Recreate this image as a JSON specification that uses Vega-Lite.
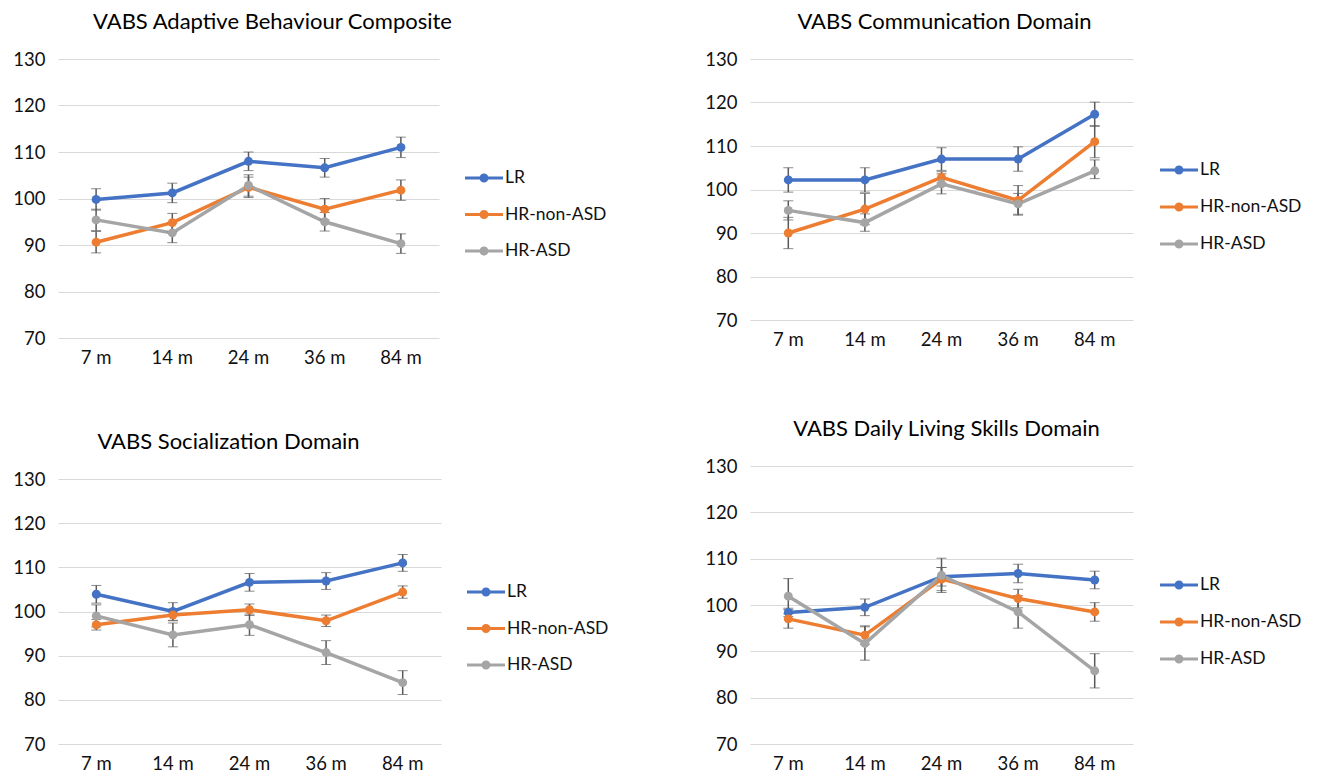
{
  "$schema": "https://vega.github.io/schema/vega-lite/v6.json",
  "background": "white",
  "padding": {"left": 12, "top": 11, "right": 0, "bottom": 0},
  "config": {
    "view": {"stroke": null},
    "font": "Lato",
    "title": {"font": "Lato", "fontSize": 22, "fontWeight": "normal", "color": "#000000", "anchor": "middle", "frame": "group", "offset": 16},
    "axis": {"labelFont": "Lato", "labelFontSize": 18.5, "labelColor": "#111111", "domain": false, "ticks": false},
    "legend": {"labelFont": "Lato", "labelFontSize": 17.5, "labelColor": "#111111", "padding": 0, "title": null, "symbolOpacity": 1, "symbolStrokeWidth": 0}
  },
  "datasets": {
    "abc": [
      {"age": "7 m", "group": "LR", "mean": 99.8, "lo": 97.5, "hi": 102.1},
      {"age": "14 m", "group": "LR", "mean": 101.2, "lo": 99.1, "hi": 103.3},
      {"age": "24 m", "group": "LR", "mean": 108.0, "lo": 106.0, "hi": 110.0},
      {"age": "36 m", "group": "LR", "mean": 106.6, "lo": 104.6, "hi": 108.6},
      {"age": "84 m", "group": "LR", "mean": 111.0, "lo": 108.8, "hi": 113.2},
      {"age": "7 m", "group": "HR-non-ASD", "mean": 90.6, "lo": 88.3, "hi": 92.9},
      {"age": "14 m", "group": "HR-non-ASD", "mean": 94.8, "lo": 92.8, "hi": 96.8},
      {"age": "24 m", "group": "HR-non-ASD", "mean": 102.4, "lo": 100.2, "hi": 104.6},
      {"age": "36 m", "group": "HR-non-ASD", "mean": 97.7, "lo": 95.4, "hi": 100.0},
      {"age": "84 m", "group": "HR-non-ASD", "mean": 101.8, "lo": 99.6, "hi": 104.0},
      {"age": "7 m", "group": "HR-ASD", "mean": 95.4, "lo": 93.1, "hi": 97.7},
      {"age": "14 m", "group": "HR-ASD", "mean": 92.6, "lo": 90.5, "hi": 94.7},
      {"age": "24 m", "group": "HR-ASD", "mean": 102.8, "lo": 100.5, "hi": 105.1},
      {"age": "36 m", "group": "HR-ASD", "mean": 95.0, "lo": 93.0, "hi": 97.0},
      {"age": "84 m", "group": "HR-ASD", "mean": 90.3, "lo": 88.2, "hi": 92.4}
    ],
    "comm": [
      {"age": "7 m", "group": "LR", "mean": 102.2, "lo": 99.4, "hi": 105.0},
      {"age": "14 m", "group": "LR", "mean": 102.2, "lo": 99.4, "hi": 105.0},
      {"age": "24 m", "group": "LR", "mean": 107.0, "lo": 104.4, "hi": 109.6},
      {"age": "36 m", "group": "LR", "mean": 107.0, "lo": 104.2, "hi": 109.8},
      {"age": "84 m", "group": "LR", "mean": 117.3, "lo": 114.5, "hi": 120.1},
      {"age": "7 m", "group": "HR-non-ASD", "mean": 90.0, "lo": 86.4, "hi": 93.6},
      {"age": "14 m", "group": "HR-non-ASD", "mean": 95.5, "lo": 91.9, "hi": 99.1},
      {"age": "24 m", "group": "HR-non-ASD", "mean": 102.8, "lo": 101.5, "hi": 104.1},
      {"age": "36 m", "group": "HR-non-ASD", "mean": 97.5, "lo": 94.1, "hi": 100.9},
      {"age": "84 m", "group": "HR-non-ASD", "mean": 111.0, "lo": 107.3, "hi": 114.7},
      {"age": "7 m", "group": "HR-ASD", "mean": 95.2, "lo": 93.0, "hi": 97.4},
      {"age": "14 m", "group": "HR-ASD", "mean": 92.4, "lo": 90.4, "hi": 94.4},
      {"age": "24 m", "group": "HR-ASD", "mean": 101.3, "lo": 99.0, "hi": 103.6},
      {"age": "36 m", "group": "HR-ASD", "mean": 96.7, "lo": 94.3, "hi": 99.1},
      {"age": "84 m", "group": "HR-ASD", "mean": 104.3, "lo": 102.5, "hi": 106.8}
    ],
    "soc": [
      {"age": "7 m", "group": "LR", "mean": 103.9, "lo": 101.9, "hi": 105.9},
      {"age": "14 m", "group": "LR", "mean": 100.0, "lo": 98.0, "hi": 102.0},
      {"age": "24 m", "group": "LR", "mean": 106.6, "lo": 104.6, "hi": 108.6},
      {"age": "36 m", "group": "LR", "mean": 106.9, "lo": 105.0, "hi": 108.8},
      {"age": "84 m", "group": "LR", "mean": 111.0, "lo": 109.1, "hi": 112.9},
      {"age": "7 m", "group": "HR-non-ASD", "mean": 97.0, "lo": 95.8, "hi": 98.2},
      {"age": "14 m", "group": "HR-non-ASD", "mean": 99.2, "lo": 97.9, "hi": 100.5},
      {"age": "24 m", "group": "HR-non-ASD", "mean": 100.4, "lo": 99.1, "hi": 101.7},
      {"age": "36 m", "group": "HR-non-ASD", "mean": 97.9, "lo": 96.6, "hi": 99.2},
      {"age": "84 m", "group": "HR-non-ASD", "mean": 104.4, "lo": 103.0, "hi": 105.8},
      {"age": "7 m", "group": "HR-ASD", "mean": 99.0, "lo": 96.5, "hi": 101.5},
      {"age": "14 m", "group": "HR-ASD", "mean": 94.7, "lo": 92.0, "hi": 97.4},
      {"age": "24 m", "group": "HR-ASD", "mean": 97.0, "lo": 94.6, "hi": 99.4},
      {"age": "36 m", "group": "HR-ASD", "mean": 90.7, "lo": 88.0, "hi": 93.4},
      {"age": "84 m", "group": "HR-ASD", "mean": 83.9, "lo": 81.2, "hi": 86.6}
    ],
    "dls": [
      {"age": "7 m", "group": "LR", "mean": 98.4, "lo": 97.5, "hi": 99.3},
      {"age": "14 m", "group": "LR", "mean": 99.5, "lo": 97.7, "hi": 101.3},
      {"age": "24 m", "group": "LR", "mean": 106.1, "lo": 104.1, "hi": 108.1},
      {"age": "36 m", "group": "LR", "mean": 106.8, "lo": 104.8, "hi": 108.8},
      {"age": "84 m", "group": "LR", "mean": 105.4, "lo": 103.5, "hi": 107.3},
      {"age": "7 m", "group": "HR-non-ASD", "mean": 97.0, "lo": 95.0, "hi": 99.0},
      {"age": "14 m", "group": "HR-non-ASD", "mean": 93.5, "lo": 91.5, "hi": 95.5},
      {"age": "24 m", "group": "HR-non-ASD", "mean": 105.6, "lo": 103.1, "hi": 108.1},
      {"age": "36 m", "group": "HR-non-ASD", "mean": 101.4, "lo": 99.4, "hi": 103.4},
      {"age": "84 m", "group": "HR-non-ASD", "mean": 98.5, "lo": 96.5, "hi": 100.5},
      {"age": "7 m", "group": "HR-ASD", "mean": 101.9, "lo": 98.1, "hi": 105.7},
      {"age": "14 m", "group": "HR-ASD", "mean": 91.7, "lo": 88.1, "hi": 95.3},
      {"age": "24 m", "group": "HR-ASD", "mean": 106.4, "lo": 102.7, "hi": 110.1},
      {"age": "36 m", "group": "HR-ASD", "mean": 98.5, "lo": 95.0, "hi": 102.0},
      {"age": "84 m", "group": "HR-ASD", "mean": 85.8, "lo": 82.1, "hi": 89.5}
    ]
  },
  "bounds": "flush",
  "spacing": 692,
  "resolve": {"scale": {"color": "independent"}, "legend": {"color": "independent"}},
  "hconcat": [
    {
      "bounds": "flush",
      "spacing": 141,
      "resolve": {"scale": {"color": "independent"}, "legend": {"color": "independent"}},
      "vconcat": [
        {
          "width": 381, "height": 279,
          "data": {"name": "abc"},
          "title": {"text": "VABS Adaptive Behaviour Composite", "dx": 24},
          "resolve": {"legend": {"color": "independent"}},
          "encoding": {
            "x": {"field": "age", "type": "ordinal", "sort": ["7 m", "14 m", "24 m", "36 m", "84 m"], "axis": {"labelAngle": 0, "labelPadding": 10, "grid": false, "title": null}}
          },
          "layer": [
            {"mark": {"type": "line", "strokeWidth": 3.5},
             "encoding": {"y": {"field": "mean", "type": "quantitative", "scale": {"domain": [70, 130], "zero": false, "nice": false}, "axis": {"title": null, "values": [70, 80, 90, 100, 110, 120, 130], "grid": true, "gridColor": "#D9D9D9", "gridWidth": 1.2, "labelPadding": 13}},
                          "color": {"field": "group", "type": "nominal", "scale": {"domain": ["LR", "HR-non-ASD", "HR-ASD"], "range": ["#4472C4", "#ED7D31", "#A5A5A5"]}, "legend": null}}},
            {"mark": {"type": "errorbar", "ticks": {"size": 10, "color": "#595959", "strokeWidth": 1.5}, "rule": {"color": "#595959", "strokeWidth": 1.5}},
             "encoding": {"y": {"field": "lo", "type": "quantitative", "title": null}, "y2": {"field": "hi"}, "detail": {"field": "group"}}},
            {"mark": {"type": "point", "filled": true, "size": 80, "opacity": 1},
             "encoding": {"y": {"field": "mean", "type": "quantitative", "title": null},
                          "color": {"field": "group", "type": "nominal", "scale": {"domain": ["LR", "HR-non-ASD", "HR-ASD"], "range": ["#4472C4", "#ED7D31", "#A5A5A5"]},
                                    "legend": {"orient": "none", "legendX": 416, "legendY": 109, "symbolType": "M-1.9,-0.15L1.9,-0.15L1.9,0.15L-1.9,0.15Z M0.45,0A0.45,0.45 0 1 1 -0.45,0A0.45,0.45 0 1 1 0.45,0Z", "symbolSize": 400, "labelOffset": 11, "rowPadding": 17.5}}}}
          ]
        },
        {
          "width": 383, "height": 265,
          "data": {"name": "soc"},
          "title": {"text": "VABS Socialization Domain", "dx": -21},
          "resolve": {"legend": {"color": "independent"}},
          "encoding": {
            "x": {"field": "age", "type": "ordinal", "sort": ["7 m", "14 m", "24 m", "36 m", "84 m"], "axis": {"labelAngle": 0, "labelPadding": 10, "grid": false, "title": null}}
          },
          "layer": [
            {"mark": {"type": "line", "strokeWidth": 3.5},
             "encoding": {"y": {"field": "mean", "type": "quantitative", "scale": {"domain": [70, 130], "zero": false, "nice": false}, "axis": {"title": null, "values": [70, 80, 90, 100, 110, 120, 130], "grid": true, "gridColor": "#D9D9D9", "gridWidth": 1.2, "labelPadding": 13}},
                          "color": {"field": "group", "type": "nominal", "scale": {"domain": ["LR", "HR-non-ASD", "HR-ASD"], "range": ["#4472C4", "#ED7D31", "#A5A5A5"]}, "legend": null}}},
            {"mark": {"type": "errorbar", "ticks": {"size": 10, "color": "#595959", "strokeWidth": 1.5}, "rule": {"color": "#595959", "strokeWidth": 1.5}},
             "encoding": {"y": {"field": "lo", "type": "quantitative", "title": null}, "y2": {"field": "hi"}, "detail": {"field": "group"}}},
            {"mark": {"type": "point", "filled": true, "size": 80, "opacity": 1},
             "encoding": {"y": {"field": "mean", "type": "quantitative", "title": null},
                          "color": {"field": "group", "type": "nominal", "scale": {"domain": ["LR", "HR-non-ASD", "HR-ASD"], "range": ["#4472C4", "#ED7D31", "#A5A5A5"]},
                                    "legend": {"orient": "none", "legendX": 418, "legendY": 103, "symbolType": "M-1.9,-0.15L1.9,-0.15L1.9,0.15L-1.9,0.15Z M0.45,0A0.45,0.45 0 1 1 -0.45,0A0.45,0.45 0 1 1 0.45,0Z", "symbolSize": 400, "labelOffset": 11, "rowPadding": 17.5}}}}
          ]
        }
      ]
    },
    {
      "bounds": "flush",
      "spacing": 146,
      "resolve": {"scale": {"color": "independent"}, "legend": {"color": "independent"}},
      "vconcat": [
        {
          "width": 383, "height": 261,
          "data": {"name": "comm"},
          "title": {"text": "VABS Communication Domain", "dx": 3},
          "resolve": {"legend": {"color": "independent"}},
          "encoding": {
            "x": {"field": "age", "type": "ordinal", "sort": ["7 m", "14 m", "24 m", "36 m", "84 m"], "axis": {"labelAngle": 0, "labelPadding": 10, "grid": false, "title": null}}
          },
          "layer": [
            {"mark": {"type": "line", "strokeWidth": 3.5},
             "encoding": {"y": {"field": "mean", "type": "quantitative", "scale": {"domain": [70, 130], "zero": false, "nice": false}, "axis": {"title": null, "values": [70, 80, 90, 100, 110, 120, 130], "grid": true, "gridColor": "#D9D9D9", "gridWidth": 1.2, "labelPadding": 13}},
                          "color": {"field": "group", "type": "nominal", "scale": {"domain": ["LR", "HR-non-ASD", "HR-ASD"], "range": ["#4472C4", "#ED7D31", "#A5A5A5"]}, "legend": null}}},
            {"mark": {"type": "errorbar", "ticks": {"size": 10, "color": "#595959", "strokeWidth": 1.5}, "rule": {"color": "#595959", "strokeWidth": 1.5}},
             "encoding": {"y": {"field": "lo", "type": "quantitative", "title": null}, "y2": {"field": "hi"}, "detail": {"field": "group"}}},
            {"mark": {"type": "point", "filled": true, "size": 80, "opacity": 1},
             "encoding": {"y": {"field": "mean", "type": "quantitative", "title": null},
                          "color": {"field": "group", "type": "nominal", "scale": {"domain": ["LR", "HR-non-ASD", "HR-ASD"], "range": ["#4472C4", "#ED7D31", "#A5A5A5"]},
                                    "legend": {"orient": "none", "legendX": 419, "legendY": 101, "symbolType": "M-1.9,-0.15L1.9,-0.15L1.9,0.15L-1.9,0.15Z M0.45,0A0.45,0.45 0 1 1 -0.45,0A0.45,0.45 0 1 1 0.45,0Z", "symbolSize": 400, "labelOffset": 11, "rowPadding": 18}}}}
          ]
        },
        {
          "width": 383, "height": 278,
          "data": {"name": "dls"},
          "title": {"text": "VABS Daily Living Skills Domain", "dx": 5},
          "resolve": {"legend": {"color": "independent"}},
          "encoding": {
            "x": {"field": "age", "type": "ordinal", "sort": ["7 m", "14 m", "24 m", "36 m", "84 m"], "axis": {"labelAngle": 0, "labelPadding": 10, "grid": false, "title": null}}
          },
          "layer": [
            {"mark": {"type": "line", "strokeWidth": 3.5},
             "encoding": {"y": {"field": "mean", "type": "quantitative", "scale": {"domain": [70, 130], "zero": false, "nice": false}, "axis": {"title": null, "values": [70, 80, 90, 100, 110, 120, 130], "grid": true, "gridColor": "#D9D9D9", "gridWidth": 1.2, "labelPadding": 13}},
                          "color": {"field": "group", "type": "nominal", "scale": {"domain": ["LR", "HR-non-ASD", "HR-ASD"], "range": ["#4472C4", "#ED7D31", "#A5A5A5"]}, "legend": null}}},
            {"mark": {"type": "errorbar", "ticks": {"size": 10, "color": "#595959", "strokeWidth": 1.5}, "rule": {"color": "#595959", "strokeWidth": 1.5}},
             "encoding": {"y": {"field": "lo", "type": "quantitative", "title": null}, "y2": {"field": "hi"}, "detail": {"field": "group"}}},
            {"mark": {"type": "point", "filled": true, "size": 80, "opacity": 1},
             "encoding": {"y": {"field": "mean", "type": "quantitative", "title": null},
                          "color": {"field": "group", "type": "nominal", "scale": {"domain": ["LR", "HR-non-ASD", "HR-ASD"], "range": ["#4472C4", "#ED7D31", "#A5A5A5"]},
                                    "legend": {"orient": "none", "legendX": 419, "legendY": 109, "symbolType": "M-1.9,-0.15L1.9,-0.15L1.9,0.15L-1.9,0.15Z M0.45,0A0.45,0.45 0 1 1 -0.45,0A0.45,0.45 0 1 1 0.45,0Z", "symbolSize": 400, "labelOffset": 11, "rowPadding": 18}}}}
          ]
        }
      ]
    }
  ]
}
